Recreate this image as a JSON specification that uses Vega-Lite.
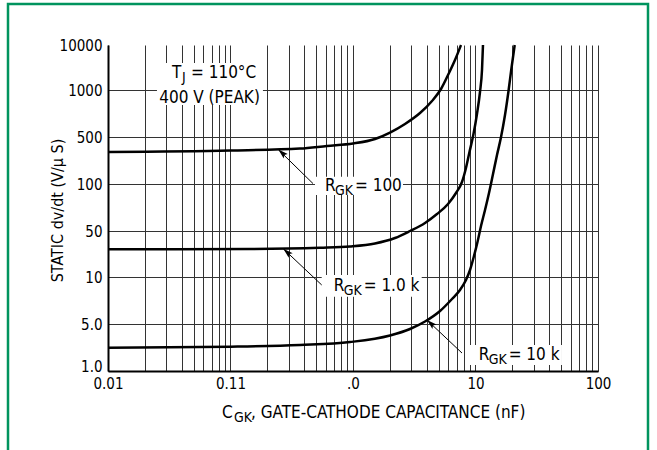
{
  "$schema": "https://vega.github.io/schema/vega-lite/v6.json",
  "width": 640,
  "height": 451,
  "autosize": "none",
  "padding": {"left": 8, "top": 4, "right": 9, "bottom": 0},
  "background": "white",
  "config": {
    "view": {"stroke": "#00945e", "strokeWidth": 2.5},
    "font": "DejaVu Sans Condensed, Liberation Sans, sans-serif",
    "text": {"font": "DejaVu Sans Condensed, Liberation Sans, sans-serif", "color": "black"}
  },
  "datasets": {
    "curves": [
      {"r": "100", "c": 0.01, "v": 299}, {"r": "100", "c": 0.1, "v": 315}, {"r": "100", "c": 0.369, "v": 337},
      {"r": "100", "c": 0.613, "v": 368}, {"r": "100", "c": 1.0, "v": 400}, {"r": "100", "c": 1.512, "v": 467},
      {"r": "100", "c": 2.005, "v": 534}, {"r": "100", "c": 2.658, "v": 606}, {"r": "100", "c": 3.524, "v": 712},
      {"r": "100", "c": 4.416, "v": 850}, {"r": "100", "c": 5.228, "v": 1052}, {"r": "100", "c": 6.077, "v": 2387},
      {"r": "100", "c": 6.801, "v": 4642}, {"r": "100", "c": 7.614, "v": 10000},
      {"r": "1.0 k", "c": 0.01, "v": 26.4}, {"r": "1.0 k", "c": 0.1443, "v": 26.6}, {"r": "1.0 k", "c": 0.5377, "v": 27.8},
      {"r": "1.0 k", "c": 0.945, "v": 29.1}, {"r": "1.0 k", "c": 1.512, "v": 32.3}, {"r": "1.0 k", "c": 2.202, "v": 39.1},
      {"r": "1.0 k", "c": 2.92, "v": 50}, {"r": "1.0 k", "c": 3.871, "v": 56.3}, {"r": "1.0 k", "c": 4.85, "v": 64.2},
      {"r": "1.0 k", "c": 5.966, "v": 74.5}, {"r": "1.0 k", "c": 6.93, "v": 87.6}, {"r": "1.0 k", "c": 7.757, "v": 107.1},
      {"r": "1.0 k", "c": 8.36, "v": 172.9}, {"r": "1.0 k", "c": 8.93, "v": 299}, {"r": "1.0 k", "c": 9.63, "v": 522},
      {"r": "1.0 k", "c": 10.28, "v": 702}, {"r": "1.0 k", "c": 10.88, "v": 971}, {"r": "1.0 k", "c": 11.3, "v": 2783},
      {"r": "1.0 k", "c": 11.51, "v": 10000},
      {"r": "10 k", "c": 0.01, "v": 2.221}, {"r": "10 k", "c": 0.1, "v": 2.298}, {"r": "10 k", "c": 0.369, "v": 2.436},
      {"r": "10 k", "c": 0.945, "v": 2.697}, {"r": "10 k", "c": 2.005, "v": 3.372}, {"r": "10 k", "c": 2.92, "v": 4.215},
      {"r": "10 k", "c": 3.871, "v": 5.187}, {"r": "10 k", "c": 5.133, "v": 6.057}, {"r": "10 k", "c": 6.43, "v": 7.23},
      {"r": "10 k", "c": 7.47, "v": 8.26}, {"r": "10 k", "c": 8.36, "v": 9.57}, {"r": "10 k", "c": 9.02, "v": 12.77},
      {"r": "10 k", "c": 9.72, "v": 20.85}, {"r": "10 k", "c": 10.38, "v": 34.1}, {"r": "10 k", "c": 11.09, "v": 53.8},
      {"r": "10 k", "c": 11.96, "v": 68.2}, {"r": "10 k", "c": 12.89, "v": 87.6}, {"r": "10 k", "c": 13.9, "v": 140.8},
      {"r": "10 k", "c": 14.98, "v": 269.7}, {"r": "10 k", "c": 16.16, "v": 500}, {"r": "10 k", "c": 17.41, "v": 691.6},
      {"r": "10 k", "c": 18.6, "v": 985.5}, {"r": "10 k", "c": 19.67, "v": 3083}, {"r": "10 k", "c": 20.89, "v": 10000}
    ],
    "boxes": [
      {"c": 0.0251, "c2": 0.184, "v": 801, "v2": 3981},
      {"c": 0.4896, "c2": 2.559, "v": 85, "v2": 128},
      {"c": 0.5553, "c2": 3.638, "v": 7.48, "v2": 10.7},
      {"c": 8.254, "c2": 50.8, "v": 1.23, "v2": 2.44}
    ],
    "arrows": [
      {"c": 0.4716, "v": 101.5, "c2": 0.2456, "v2": 325},
      {"c": 0.5553, "v": 8.89, "c2": 0.2697, "v2": 26.9},
      {"c": 7.76, "v": 1.85, "c2": 4.02, "v2": 5.3}
    ],
    "rlabels": [
      {"c": 0.5906, "v": 90.2, "rest": "= 100"},
      {"c": 0.6959, "v": 8.13, "rest": "= 1.0 k"},
      {"c": 10.62, "v": 1.46, "rest": "= 10 k"}
    ],
    "tj": [{"c": 0.0333, "v": 1848}],
    "peak": [{"c": 0.0674, "v": 829, "t": "400 V (PEAK)"}],
    "xtitle": [{"c": 0.0852, "v": 1, "t": ", GATE-CATHODE CAPACITANCE (nF)"}]
  },
  "encoding": {
    "x": {
      "field": "c",
      "type": "quantitative",
      "scale": {"type": "log", "domain": [0.01, 100], "range": [100, 590], "nice": false},
      "axis": {
        "orient": "top",
        "values": [0.01, 0.02, 0.03, 0.04, 0.05, 0.06, 0.07, 0.08, 0.09, 0.1, 0.2, 0.3, 0.4, 0.5, 0.6, 0.7, 0.8, 0.9, 1, 2, 3, 4, 5, 6, 7, 8, 9, 10, 20, 30, 40, 50, 60, 70, 80, 90, 100],
        "labelExpr": "datum.value === 0.01 ? '0.01' : datum.value === 0.1 ? '0.11' : datum.value === 1 ? '.0' : datum.value === 10 ? '10' : datum.value === 100 ? '100' : ''",
        "title": null,
        "offset": -367,
        "ticks": false,
        "tickSize": 0,
        "grid": true,
        "gridColor": "#333",
        "gridWidth": 1,
        "domainColor": "black",
        "domainWidth": 2,
        "labelFont": "DejaVu Sans Condensed, Liberation Sans, sans-serif",
        "labelFontSize": 15,
        "labelColor": "black",
        "labelPadding": -5,
        "labelBaseline": "top",
        "labelOverlap": false,
        "labelFlush": false
      }
    },
    "y": {
      "field": "v",
      "type": "quantitative",
      "scale": {"type": "log", "domain": [1, 5, 10, 50, 100, 500, 1000, 10000], "range": [367, 320, 273, 227, 180, 133, 86, 41], "nice": false},
      "axis": {
        "values": [1, 5, 10, 50, 100, 500, 1000, 10000],
        "labelExpr": "datum.value === 1 ? '1.0' : datum.value === 5 ? '5.0' : '' + datum.value",
        "title": "STATIC dv/dt (V/μ S)",
        "titleFont": "DejaVu Sans Condensed, Liberation Sans, sans-serif",
        "titleFontSize": 16,
        "titleFontWeight": "normal",
        "titleColor": "black",
        "titleX": -51,
        "titleY": 206,
        "titleAngle": 270,
        "titleBaseline": "middle",
        "titleAlign": "center",
        "offset": -100,
        "ticks": false,
        "tickSize": 0,
        "grid": true,
        "gridColor": "#333",
        "gridWidth": 1,
        "gridOpacity": {"condition": {"test": "datum.value === 10000", "value": 0}, "value": 1},
        "domainColor": "black",
        "domainWidth": 2,
        "labelFont": "DejaVu Sans Condensed, Liberation Sans, sans-serif",
        "labelFontSize": 15,
        "labelColor": "black",
        "labelPadding": 6,
        "labelOverlap": false,
        "labelBaseline": {"condition": {"test": "datum.value === 1", "value": "alphabetic"}, "value": "middle"}
      }
    }
  },
  "layer": [
    {
      "data": {"name": "boxes"},
      "mark": {"type": "rect", "fill": "white", "stroke": null},
      "encoding": {"x2": {"field": "c2"}, "y2": {"field": "v2"}}
    },
    {
      "data": {"name": "curves"},
      "mark": {"type": "line", "color": "black", "strokeWidth": 2.5, "interpolate": "monotone"},
      "encoding": {"detail": {"field": "r"}}
    },
    {
      "data": {"name": "arrows"},
      "mark": {"type": "rule", "color": "black", "strokeWidth": 1},
      "encoding": {"x2": {"field": "c2"}, "y2": {"field": "v2"}}
    },
    {
      "data": {"name": "arrows"},
      "mark": {"type": "point", "shape": "M0,0L-0.6,2L0,1.6L0.6,2Z", "filled": true, "color": "black", "opacity": 1, "size": 100, "angle": 312},
      "encoding": {"x": {"field": "c2", "type": "quantitative"}, "y": {"field": "v2", "type": "quantitative"}}
    },
    {
      "data": {"name": "rlabels"},
      "mark": {"type": "text", "text": "R", "align": "left", "baseline": "alphabetic", "fontSize": 17}
    },
    {
      "data": {"name": "rlabels"},
      "mark": {"type": "text", "text": "GK", "align": "left", "baseline": "alphabetic", "fontSize": 14, "dx": 10, "dy": 4}
    },
    {
      "data": {"name": "rlabels"},
      "mark": {"type": "text", "align": "left", "baseline": "alphabetic", "fontSize": 17, "dx": 30},
      "encoding": {"text": {"field": "rest"}}
    },
    {
      "data": {"name": "tj"},
      "mark": {"type": "text", "text": "T", "align": "left", "baseline": "alphabetic", "fontSize": 17}
    },
    {
      "data": {"name": "tj"},
      "mark": {"type": "text", "text": "J", "align": "left", "baseline": "alphabetic", "fontSize": 14, "dx": 10, "dy": 4}
    },
    {
      "data": {"name": "tj"},
      "mark": {"type": "text", "text": "= 110°C", "align": "left", "baseline": "alphabetic", "fontSize": 17, "dx": 19}
    },
    {
      "data": {"name": "peak"},
      "mark": {"type": "text", "align": "center", "baseline": "alphabetic", "fontSize": 17},
      "encoding": {"text": {"field": "t"}}
    },
    {
      "data": {"name": "xtitle"},
      "mark": {"type": "text", "text": "C", "align": "left", "baseline": "alphabetic", "fontSize": 17, "dy": 47}
    },
    {
      "data": {"name": "xtitle"},
      "mark": {"type": "text", "text": "GK", "align": "left", "baseline": "alphabetic", "fontSize": 14, "dx": 12, "dy": 51}
    },
    {
      "data": {"name": "xtitle"},
      "mark": {"type": "text", "align": "left", "baseline": "alphabetic", "fontSize": 17, "dx": 29, "dy": 47},
      "encoding": {"text": {"field": "t"}}
    }
  ]
}
